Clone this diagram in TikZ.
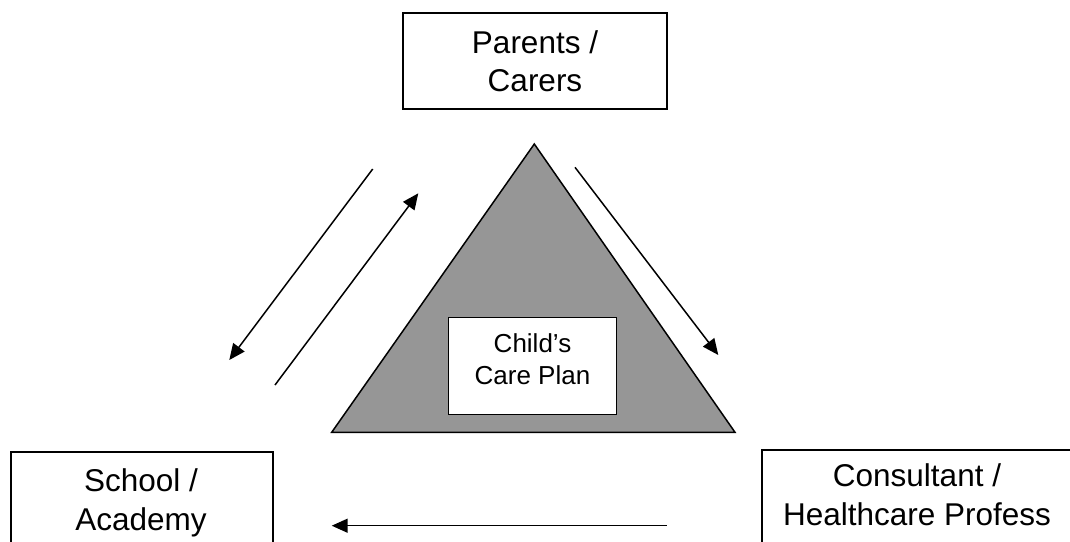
\documentclass[tikz,border=0pt]{standalone}
\usepackage{fontspec}
\setmainfont{Liberation Sans}
\usetikzlibrary{arrows.meta}
\definecolor{triGray}{RGB}{150,150,150}
\tikzset{
  boxframe/.style={draw=black, line width=1.8pt, fill=white},
  bigtext/.style={font=\fontsize{31.5}{38}\selectfont, anchor=base, inner sep=0pt},
  smalltext/.style={font=\fontsize{26}{31}\selectfont, anchor=base, inner sep=0pt},
  flow/.style={draw=black, line width=1.5pt, -{Triangle[length=16pt,width=14pt]}},
}
\begin{document}
\begin{tikzpicture}[x=1pt,y=-1pt]
\useasboundingbox (0,0) rectangle (1070,541);
% triangle
\coordinate (apex) at (534.3,144);
\coordinate (bl) at (331.7,432.3);
\coordinate (br) at (735,432.3);
\draw[fill=triGray, line width=1.5pt, line join=miter] (apex) -- (br) -- (bl) -- cycle;
% boxes
\draw[boxframe] (403,13.3) rectangle (666.7,109);
\draw[boxframe] (11,452) rectangle (273,560);
\draw[boxframe] (762,450) rectangle (1074,560);
\draw[boxframe, line width=1.5pt] (448.3,317.7) rectangle (616.7,414.3);
% texts
\node[bigtext] (parents1) at (535,53.3) {Parents /};
\node[bigtext] (parents2) at (535,91.7) {Carers};
\node[bigtext] (school1) at (141,491.7) {School /};
\node[bigtext] (school2) at (141,530) {Academy};
\node[bigtext] (cons1) at (917,486.7) {Consultant /};
\node[bigtext] (cons2) at (917,525) {Healthcare Profess};
\node[smalltext] (plan1) at (532.5,352.7) {Child’s};
\node[smalltext] (plan2) at (532.5,384) {Care Plan};
% arrows
\coordinate (a1s) at (372.7,169);
\coordinate (a1e) at (229.3,360);
\coordinate (a2s) at (275,385);
\coordinate (a2e) at (418.3,193.3);
\coordinate (a3s) at (575,167.3);
\coordinate (a3e) at (718.3,355);
\coordinate (a4s) at (666.7,525.7);
\coordinate (a4e) at (331.7,525.7);
\draw[flow] (a1s) -- (a1e);
\draw[flow] (a2s) -- (a2e);
\draw[flow] (a3s) -- (a3e);
\draw[flow] (a4s) -- (a4e);
\end{tikzpicture}
\end{document}
